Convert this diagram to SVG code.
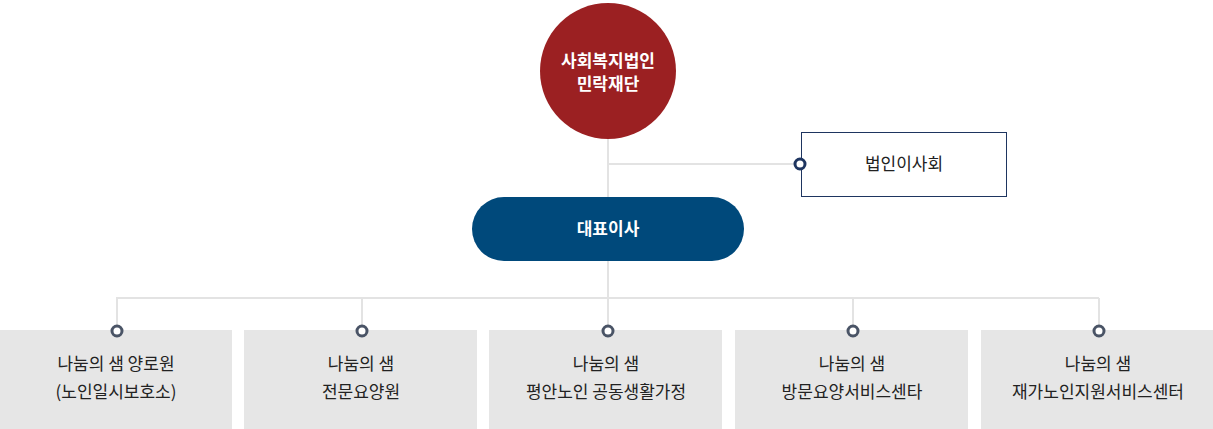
<svg xmlns="http://www.w3.org/2000/svg" width="1213" height="429" viewBox="0 0 1213 429">
<style>
.ln{stroke:#e3e3e3;stroke-width:2;fill:none}
.dot{fill:#fff;stroke-width:3}
.t{font-family:"Noto Sans CJK KR","Noto Sans",sans-serif;font-size:17px;text-anchor:middle}
.w{fill:#fff;font-weight:bold}
.bx{fill:#e6e6e6}
.bt{fill:#222}
</style>
<g id="connectors">
<path class="ln" d="M608 130V330M608 164H800M608 298H117V330M1099 298V330M608 298H1099M362 298V330M853 298V330"/>
</g>
<g id="root"><circle cx="608" cy="71" r="68" fill="#9b2022"/>
<text class="t w" x="608" y="67">사회복지법인</text><text class="t w" x="608" y="90">민락재단</text></g>
<g id="board"><rect x="801.5" y="132.5" width="205" height="64" fill="#fff" stroke="#1e3560"/>
<circle class="dot" cx="800" cy="164" r="5" stroke="#1e3560"/>
<text class="t bt" x="904" y="170">법인이사회</text></g>
<g id="ceo"><rect x="472" y="197" width="272" height="64" rx="32" fill="#00497b"/>
<text class="t w" x="608" y="235">대표이사</text></g>
<g id="n1"><rect class="bx" x="0" y="330" width="232" height="99"/><circle class="dot" cx="117" cy="331" r="5" stroke="#4a5466"/>
<text class="t bt" x="116" y="370">나눔의 샘 양로원</text><text class="t bt" x="116" y="398">(노인일시보호소)</text></g>
<g id="n2"><rect class="bx" x="244" y="330" width="233" height="99"/><circle class="dot" cx="362" cy="331" r="5" stroke="#4a5466"/>
<text class="t bt" x="361" y="370">나눔의 샘</text><text class="t bt" x="361" y="398">전문요양원</text></g>
<g id="n3"><rect class="bx" x="489" y="330" width="233" height="99"/><circle class="dot" cx="608" cy="331" r="5" stroke="#4a5466"/>
<text class="t bt" x="606" y="370">나눔의 샘</text><text class="t bt" x="606" y="398">평안노인 공동생활가정</text></g>
<g id="n4"><rect class="bx" x="735" y="330" width="233" height="99"/><circle class="dot" cx="853" cy="331" r="5" stroke="#4a5466"/>
<text class="t bt" x="852" y="370">나눔의 샘</text><text class="t bt" x="852" y="398">방문요양서비스센타</text></g>
<g id="n5"><rect class="bx" x="981" y="330" width="232" height="99"/><circle class="dot" cx="1099" cy="331" r="5" stroke="#4a5466"/>
<text class="t bt" x="1098" y="370">나눔의 샘</text><text class="t bt" x="1098" y="398">재가노인지원서비스센터</text></g>
</svg>
